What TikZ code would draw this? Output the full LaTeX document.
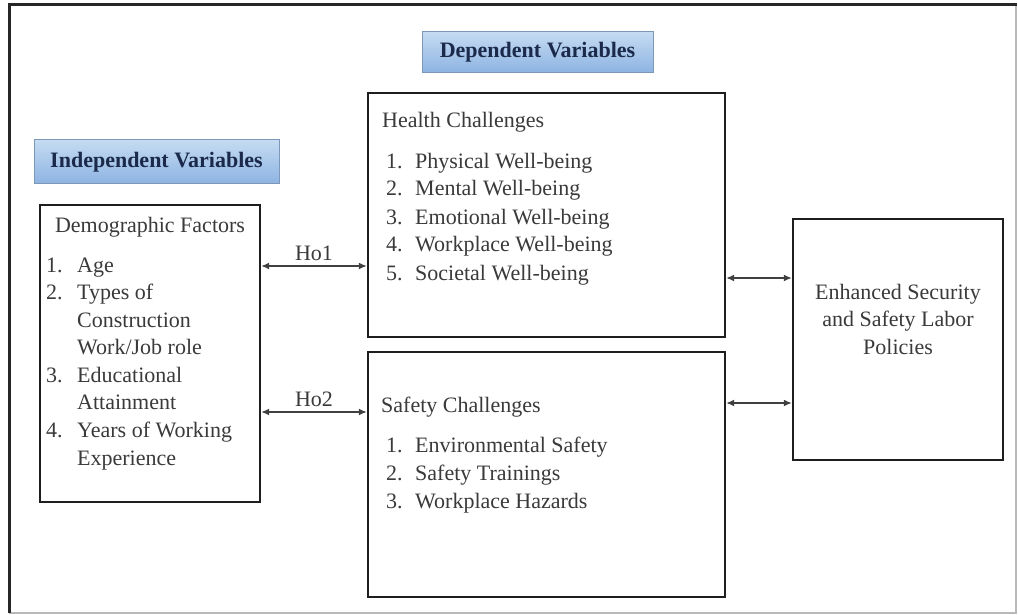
\documentclass[tikz,border=0pt]{standalone}
\usepackage{fontspec}
\setmainfont{Liberation Serif}
\usetikzlibrary{arrows.meta}
\definecolor{txt}{HTML}{3A3A3A}
\definecolor{navy}{HTML}{1B2A4A}
\definecolor{hdtop}{HTML}{C5DBF2}
\definecolor{hdbot}{HTML}{8DB3E2}
\definecolor{hdline}{HTML}{7C97B8}
\definecolor{boxline}{HTML}{1E1E1E}
\begin{document}
\begin{tikzpicture}[x=1pt,y=-1pt,
  box/.style={draw=boxline, line width=2.4pt, rectangle, inner sep=0pt, fill=white},
  head/.style={draw=hdline, line width=1pt, rectangle, inner sep=0pt, top color=hdtop, bottom color=hdbot, text=navy, font=\fontsize{22}{25}\selectfont\bfseries},
  body/.style={text=txt, inner sep=0pt, font=\fontsize{22}{27.6}\selectfont},
  link/.style={draw=boxline!85, line width=1.4pt, {Latex[length=8pt,width=7pt]}-{Latex[length=8pt,width=7pt]}},
  lbl/.style={text=txt, inner sep=0pt, font=\fontsize{22}{25}\selectfont}
]
\useasboundingbox (0,0) rectangle (1018,615);
\fill[white] (0,0) rectangle (1018,615);
% outer frame
\draw[gray!55, line width=1.5pt] (9,613) -- (1016,613) -- (1016,5);
\draw[black!85, line width=3pt] (9,613) -- (9,5) -- (1017,5);

% headings
\node[head, minimum width=245pt, minimum height=44pt] (indep) at (156.5,162) {Independent Variables};
\node[head, minimum width=231pt, minimum height=41pt] (dep) at (537.5,52.5) {Dependent Variables};

% boxes
\node[box, minimum width=220pt, minimum height=297pt] (demo) at (150,353.5) {};
\node[box, minimum width=357pt, minimum height=244pt] (health) at (546.5,215) {};
\node[box, minimum width=357pt, minimum height=245pt] (safety) at (546.5,474.5) {};
\node[box, minimum width=210pt, minimum height=241pt] (enh) at (898,339.5) {};

% demographic text
\node[body, anchor=base] (demot) at (150,232) {Demographic Factors};
\node[body, anchor=base west] (demol) at (46,272) {\begin{tabular}[t]{@{}p{31pt}@{}l@{}}
1. & Age\\
2. & Types of\\
   & Construction\\
   & Work/Job role\\
3. & Educational\\
   & Attainment\\
4. & Years of Working\\
   & Experience
\end{tabular}};

% health text
\node[body, anchor=base west] (healtht) at (382,128) {Health Challenges};
\node[body, anchor=base west, font=\fontsize{22}{28}\selectfont] (healthl) at (386,168) {\begin{tabular}[t]{@{}p{29pt}@{}l@{}}
1. & Physical Well-being\\
2. & Mental Well-being\\
3. & Emotional Well-being\\
4. & Workplace Well-being\\
5. & Societal Well-being
\end{tabular}};

% safety text
\node[body, anchor=base west] (safetyt) at (381,412) {Safety Challenges};
\node[body, anchor=base west, font=\fontsize{22}{28}\selectfont] (safetyl) at (386,452) {\begin{tabular}[t]{@{}p{29pt}@{}l@{}}
1. & Environmental Safety\\
2. & Safety Trainings\\
3. & Workplace Hazards
\end{tabular}};

% enhanced text
\node[body, align=center, font=\fontsize{22}{27.5}\selectfont] (enht) at (898,319) {Enhanced Security\\and Safety Labor\\Policies};

% connectors
\coordinate (y1) at (0,266);
\coordinate (y2) at (0,412);
\coordinate (y3) at (0,278);
\coordinate (y4) at (0,403);
\draw[link] (demo.east |- y1) -- node[lbl, above=5pt] (ho1) {Ho1} (health.west |- y1);
\draw[link] (demo.east |- y2) -- node[lbl, above=5pt] (ho2) {Ho2} (safety.west |- y2);
\draw[link] (health.east |- y3) -- (enh.west |- y3);
\draw[link] (safety.east |- y4) -- (enh.west |- y4);
\end{tikzpicture}
\end{document}
